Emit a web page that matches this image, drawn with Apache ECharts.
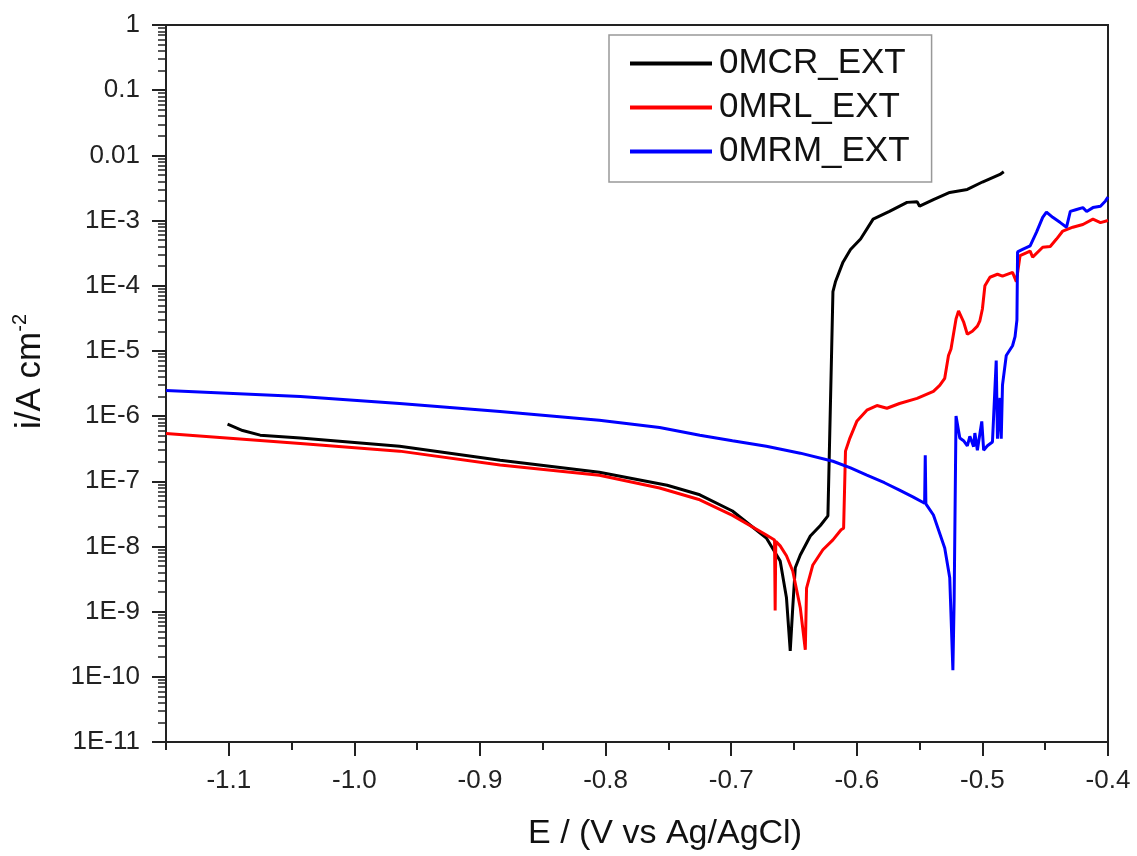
<!DOCTYPE html>
<html><head><meta charset="utf-8">
<script src="https://cdn.jsdelivr.net/npm/echarts@6/dist/echarts.min.js"></script>
<style>html,body{margin:0;padding:0;background:#fff}#c{width:1137px;height:856px}</style>
</head><body><div id="c"></div>
<script>
// ---- data (E / V vs Ag/AgCl, i / A cm^-2) ----
const seriesNames = ['0MCR_EXT', '0MRL_EXT', '0MRM_EXT'];
const mcr = [
  [-1.101, 7.5e-7], [-1.089, 6.0e-7], [-1.075, 5.1e-7], [-1.043, 4.6e-7], [-0.964, 3.44e-7],
  [-0.884, 2.1e-7], [-0.805, 1.38e-7], [-0.751, 8.7e-8], [-0.725, 6.2e-8], [-0.699, 3.5e-8],
  [-0.672, 1.35e-8], [-0.661, 6.0e-9], [-0.656, 1.64e-9], [-0.653, 2.5e-10], [-0.651, 1.15e-9],
  [-0.649, 4.7e-9], [-0.645, 7.4e-9], [-0.637, 1.45e-8], [-0.629, 2.1e-8], [-0.623, 2.95e-8],
  [-0.6215, 3.0e-8], [-0.620, 1.08e-5], [-0.619, 8.1e-5], [-0.617, 1.15e-4], [-0.611, 2.3e-4],
  [-0.605, 3.6e-4], [-0.597, 5.2e-4], [-0.587, 1.05e-3], [-0.574, 1.38e-3], [-0.560, 1.9e-3],
  [-0.552, 1.95e-3], [-0.550, 1.66e-3], [-0.539, 2.1e-3], [-0.526, 2.7e-3], [-0.512, 3.0e-3],
  [-0.500, 3.9e-3], [-0.486, 5.1e-3], [-0.483, 5.6e-3]
];
const mrl = [
  [-1.150, 5.4e-7], [-1.043, 3.8e-7], [-0.964, 2.9e-7], [-0.884, 1.77e-7], [-0.805, 1.24e-7],
  [-0.757, 7.9e-8], [-0.725, 5.2e-8], [-0.699, 3.0e-8], [-0.672, 1.5e-8], [-0.6655, 1.26e-8],
  [-0.665, 1.04e-9], [-0.6645, 1.2e-8], [-0.661, 1.02e-8], [-0.656, 7.2e-9], [-0.651, 4.2e-9],
  [-0.645, 1.15e-9], [-0.641, 2.6e-10], [-0.640, 2.3e-9], [-0.635, 5.2e-9], [-0.627, 8.9e-9],
  [-0.619, 1.26e-8], [-0.6125, 1.8e-8], [-0.6105, 1.9e-8], [-0.609, 2.9e-7], [-0.6055, 4.6e-7],
  [-0.600, 8.3e-7], [-0.592, 1.23e-6], [-0.584, 1.45e-6], [-0.576, 1.32e-6], [-0.566, 1.56e-6],
  [-0.552, 1.87e-6], [-0.539, 2.4e-6], [-0.534, 2.95e-6], [-0.530, 3.8e-6], [-0.527, 8.5e-6],
  [-0.525, 1.07e-5], [-0.521, 3.1e-5], [-0.519, 4.1e-5], [-0.515, 2.8e-5], [-0.512, 1.8e-5],
  [-0.508, 2.0e-5], [-0.504, 2.4e-5], [-0.502, 2.9e-5], [-0.500, 4.4e-5], [-0.498, 1.0e-4],
  [-0.494, 1.35e-4], [-0.488, 1.5e-4], [-0.484, 1.4e-4], [-0.476, 1.6e-4], [-0.473, 1.15e-4],
  [-0.470, 2.9e-4], [-0.462, 3.4e-4], [-0.460, 2.75e-4], [-0.452, 3.9e-4], [-0.446, 4.0e-4],
  [-0.441, 5.2e-4], [-0.436, 6.9e-4], [-0.428, 7.9e-4], [-0.420, 8.7e-4], [-0.412, 1.05e-3],
  [-0.406, 9.3e-4], [-0.400, 1.0e-3]
];
const mrm = [
  [-1.150, 2.47e-6], [-1.043, 2.0e-6], [-0.964, 1.56e-6], [-0.884, 1.18e-6], [-0.805, 8.6e-7],
  [-0.757, 6.7e-7], [-0.725, 5.1e-7], [-0.699, 4.2e-7], [-0.672, 3.44e-7], [-0.645, 2.7e-7],
  [-0.619, 2.03e-7], [-0.605, 1.6e-7], [-0.592, 1.24e-7], [-0.578, 9.5e-8], [-0.566, 7.3e-8],
  [-0.555, 5.7e-8], [-0.546, 4.6e-8], [-0.5455, 2.5e-7], [-0.545, 4.5e-8], [-0.539, 3.04e-8],
  [-0.530, 9.5e-9], [-0.526, 3.3e-9], [-0.5235, 1.26e-10], [-0.5225, 1.5e-9], [-0.521, 1.0e-6],
  [-0.518, 4.6e-7], [-0.515, 4.2e-7], [-0.512, 3.5e-7], [-0.510, 4.9e-7], [-0.507, 3.4e-7],
  [-0.506, 5.5e-7], [-0.504, 3.0e-7], [-0.5005, 8.3e-7], [-0.499, 3.0e-7], [-0.496, 3.5e-7],
  [-0.492, 4.0e-7], [-0.489, 7.1e-6], [-0.488, 4.5e-7], [-0.486, 1.9e-6], [-0.485, 4.5e-7],
  [-0.484, 3.0e-6], [-0.481, 8.5e-6], [-0.476, 1.2e-5], [-0.474, 1.66e-5], [-0.4725, 3.0e-5],
  [-0.472, 3.3e-4], [-0.468, 3.6e-4], [-0.462, 4.1e-4], [-0.457, 6.6e-4], [-0.452, 1.12e-3],
  [-0.449, 1.35e-3], [-0.444, 1.12e-3], [-0.438, 9.3e-4], [-0.433, 7.9e-4], [-0.430, 1.38e-3],
  [-0.425, 1.48e-3], [-0.420, 1.58e-3], [-0.417, 1.38e-3], [-0.412, 1.58e-3], [-0.406, 1.66e-3],
  [-0.402, 2.0e-3], [-0.400, 2.3e-3]
];
const yTickLabels = ['1', '0.1', '0.01', '1E-3', '1E-4', '1E-5', '1E-6', '1E-7', '1E-8', '1E-9', '1E-10', '1E-11'];
const colors = ['#000000', '#ff0000', '#0000ff'];

const FONT = '"Liberation Sans", Arial, sans-serif';
const chart = echarts.init(document.getElementById('c'), null, {renderer: 'canvas'});
const dataSets = [mcr, mrl, mrm];
chart.setOption({
  animation: false,
  backgroundColor: '#fff',
  grid: {left: 166, right: 29, top: 25, bottom: 111, show: true, borderColor: '#222', borderWidth: 2, backgroundColor: 'transparent'},
  legend: {
    orient: 'vertical', left: 609, top: 35,
    data: seriesNames, icon: 'rect', itemWidth: 82, itemHeight: 4, itemGap: 9,
    padding: [11, 22, 13, 21], borderColor: '#999', borderWidth: 1.5,
    textStyle: {fontFamily: FONT, fontSize: 35, color: '#111', lineHeight: 35, padding: [0, 0, 0, 2]}
  },
  xAxis: [{
    type: 'value', min: -1.15, max: -0.4, splitNumber: 7,
    name: 'E / (V vs Ag/AgCl)', nameLocation: 'middle', nameGap: 75,
    nameTextStyle: {fontFamily: FONT, fontSize: 34, color: '#111', padding: [0, 0, 0, 56]},
    axisLine: {show: true, onZero: false, lineStyle: {color: '#222', width: 2}},
    axisTick: {show: true, length: 14, lineStyle: {color: '#222', width: 2}},
    axisLabel: {fontFamily: FONT, fontSize: 26, color: '#222', margin: 26, showMinLabel: false,
      formatter: v => v.toFixed(1)},
    splitLine: {show: false}
  }, {
    type: 'value', min: -1.15, max: -0.4, interval: 0.05, position: 'bottom',
    axisLine: {show: false}, axisLabel: {show: false}, splitLine: {show: false},
    axisTick: {show: true, length: 8, lineStyle: {color: '#222', width: 2}}
  }],
  yAxis: {
    type: 'log', logBase: 10, min: 1e-11, max: 1, interval: 1,
    name: '{a|i/A cm}{b|-2}', nameLocation: 'middle', nameGap: 116, nameRotate: 90,
    nameTextStyle: {padding: [0, 0, 0, 24], rich: {
      a: {fontFamily: FONT, fontSize: 35, color: '#111', lineHeight: 40},
      b: {fontFamily: FONT, fontSize: 20, color: '#111', verticalAlign: 'top', lineHeight: 20}
    }},
    axisLine: {show: true, onZero: false, lineStyle: {color: '#222', width: 2}},
    axisTick: {show: true, length: 14, lineStyle: {color: '#222', width: 2}},
    minorTick: {show: true, splitNumber: 9, length: 8, lineStyle: {color: '#222', width: 1.5}},
    axisLabel: {fontFamily: FONT, fontSize: 26, color: '#222', margin: 26,
      formatter: v => yTickLabels[Math.round(-Math.log10(v))]},
    splitLine: {show: false}, minorSplitLine: {show: false}
  },
  series: seriesNames.map((n, i) => ({
    name: n, type: 'line', xAxisIndex: 0, data: dataSets[i], showSymbol: false, symbol: 'none',
    lineStyle: {color: colors[i], width: 3}, itemStyle: {color: colors[i]}, z: 3 + i
  }))
});
</script></body></html>
